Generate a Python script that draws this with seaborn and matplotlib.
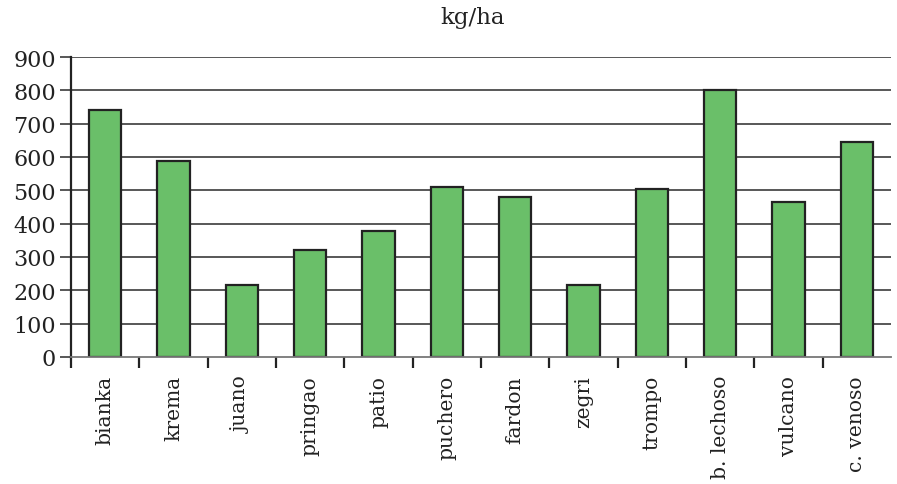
import matplotlib
matplotlib.use("Agg")
import matplotlib.pyplot as plt
import seaborn as sns
import numpy as np
import pandas as pd

# Yield per variety (kg/ha)
varieties = ["bianka", "krema", "juano", "pringao", "patio", "puchero",
             "fardon", "zegri", "trompo", "b. lechoso", "vulcano", "c. venoso"]
yields = [741, 588, 217, 320, 378, 510, 480, 217, 503, 802, 466, 646]
y_ticks = [0, 100, 200, 300, 400, 500, 600, 700, 800, 900]

sns.set_theme(style="white")
plt.rcParams["font.family"] = ["DejaVu Serif"]

df = pd.DataFrame({"variedad": varieties, "kg_ha": yields})

fig = plt.figure(figsize=(8.97, 4.85), dpi=100)
ax = fig.add_axes([0.0792, 0.2619, 0.9141, 0.6185])

ax.set_axisbelow(True)
for t in y_ticks[1:]:
    ax.axhline(t, color="#4a4a4a", linewidth=1.3, zorder=0)

sns.barplot(data=df, x="variedad", y="kg_ha", color="#6abf69", saturation=1,
            width=0.47, edgecolor="#222222", linewidth=1.6, ax=ax, zorder=2)

ax.set_xlim(-0.5, len(varieties) - 0.5)
ax.set_ylim(0, 900)
ax.set_yticks(y_ticks)
ax.set_yticklabels([str(v) for v in y_ticks], fontsize=16, color="#222222")

# category labels centred on bars, tick marks between categories
ax.set_xticks(np.arange(len(varieties)))
ax.set_xticklabels(varieties, rotation=90, fontsize=14.6, color="#222222")
ax.tick_params(axis="x", which="major", length=0, pad=13)
ax.set_xticks(np.arange(len(varieties)) - 0.5, minor=True)
ax.tick_params(axis="x", which="minor", length=8, width=1.6, color="#222222",
               direction="out", bottom=True)
ax.tick_params(axis="y", length=8, width=1.3, color="#4a4a4a", left=True, pad=3)

ax.set_xlabel("")
ax.set_ylabel("")
for side in ["top", "right"]:
    ax.spines[side].set_visible(False)
ax.spines["left"].set_color("#222222")
ax.spines["left"].set_linewidth(1.6)
ax.spines["bottom"].set_color("#777777")
ax.spines["bottom"].set_linewidth(1.3)

fig.text(0.527, 1 - 18 / 485, "kg/ha", ha="center", va="center",
         fontsize=16.5, color="#222222")

fig.savefig("out.png", dpi=100)
